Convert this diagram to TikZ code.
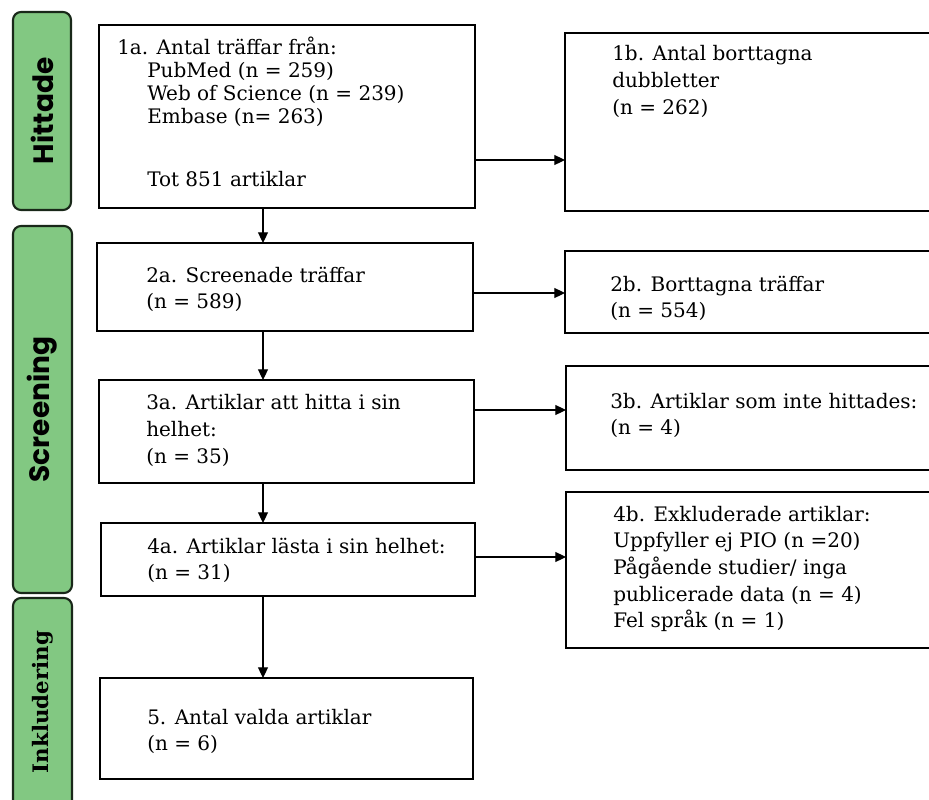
\documentclass[tikz,border=0pt]{standalone}
\usepackage{fontspec}
\setmainfont{DejaVu Serif}
\newfontfamily\barfont{Poppins}
\usetikzlibrary{arrows.meta,positioning}
\definecolor{barfill}{RGB}{130,200,130}
\definecolor{barline}{RGB}{25,40,25}

\begin{document}
\begin{tikzpicture}[
  x=0.75pt, y=-0.75pt,
  box/.style={draw,line width=1.9pt,inner sep=0pt,outer sep=0pt},
  wh/.style 2 args={minimum width=#1*0.75pt,minimum height=#2*0.75pt},
  stage/.style={box,line width=1.6pt,draw=barline,fill=barfill,rounded corners=6pt},
  stagetext/.style={rotate=90,inner sep=0pt,font=\barfont\bfseries\fontsize{21}{21}\selectfont},
  txt/.style={anchor=base west,align=left,inner sep=0pt,font=\fontsize{15}{20}\selectfont},
  arrow/.style={-{Triangle[length=8pt,width=7.5pt]},line width=0.8pt}
]
  \useasboundingbox (0,0) rectangle (929,800);
  % phases
  \node[stage,wh={58}{198}] (hit) at (42,111) {};
  \node[stage,wh={59}{367}] (scr) at (42.5,409.5) {};
  \node[stage,wh={59}{232}] (ink) at (42.5,714) {};
  \node[stagetext] (lhit) at (hit.center) {Hittade};
  \node[stagetext] (lscr) at (scr.center) {Screening};
  \node[rotate=90,inner sep=0pt,font=\bfseries\fontsize{16}{16}\selectfont] (link) at (43,702) {Inkludering};

  % boxes
  \node[box,wh={376}{183}] (b1a) at (287,116.5) {};
  \node[box,wh={395}{178}] (b1b) at (762.5,122) {};
  \node[box,wh={376}{88}] (b2a) at (285,287) {};
  \node[box,wh={395}{82}] (b2b) at (762.5,292) {};
  \node[box,wh={375}{103}] (b3a) at (286.5,431.5) {};
  \node[box,wh={394}{104}] (b3b) at (763,418) {};
  \node[box,wh={374}{73}] (b4a) at (288,559.5) {};
  \node[box,wh={394}{156}] (b4b) at (763,570) {};
  \node[box,wh={373}{101}] (b5) at (286.5,728.5) {};

  % texts (placed at the baseline of their last line)
  \node[txt,font=\fontsize{15}{17.25}\selectfont] (t1a) at (117,186) {1a. Antal träffar från:\\
    \hspace*{22.5pt}PubMed (n = 259)\\
    \hspace*{22.5pt}Web of Science (n = 239)\\
    \hspace*{22.5pt}Embase (n= 263)\\[30pt]
    \hspace*{22.5pt}Tot 851 artiklar};
  \node[txt] (t1b) at (612,114.3) {1b. Antal borttagna\\dubbletter\\(n = 262)};
  \node[txt] (t2a) at (146,308.7) {2a. Screenade träffar\\(n = 589)};
  \node[txt] (t2b) at (610,317.7) {2b. Borttagna träffar\\(n = 554)};
  \node[txt] (t3a) at (146,463.3) {3a. Artiklar att hitta i sin\\helhet:\\(n = 35)};
  \node[txt] (t3b) at (610,434.7) {3b. Artiklar som inte hittades:\\(n = 4)};
  \node[txt] (t4a) at (147,579.7) {4a. Artiklar lästa i sin helhet:\\(n = 31)};
  \node[txt] (t4b) at (613,627.7) {4b. Exkluderade artiklar:\\Uppfyller ej PIO (n =20)\\Pågående studier/ inga\\publicerade data (n = 4)\\Fel språk (n = 1)};
  \node[txt] (t5) at (147,750.7) {5. Antal valda artiklar\\(n = 6)};

  % arrows
  \draw[arrow] (b1a.south -| 263,0) -- (b2a.north -| 263,0);
  \draw[arrow] (b2a.south -| 263,0) -- (b3a.north -| 263,0);
  \draw[arrow] (b3a.south -| 263,0) -- (b4a.north -| 263,0);
  \draw[arrow] (b4a.south -| 263,0) -- (b5.north -| 263,0);
  \draw[arrow] (b1a.east |- 0,160) -- (b1b.west |- 0,160);
  \draw[arrow] (b2a.east |- 0,293) -- (b2b.west |- 0,293);
  \draw[arrow] (b3a.east |- 0,410) -- (b3b.west |- 0,410);
  \draw[arrow] (b4a.east |- 0,557) -- (b4b.west |- 0,557);
\end{tikzpicture}
\end{document}
